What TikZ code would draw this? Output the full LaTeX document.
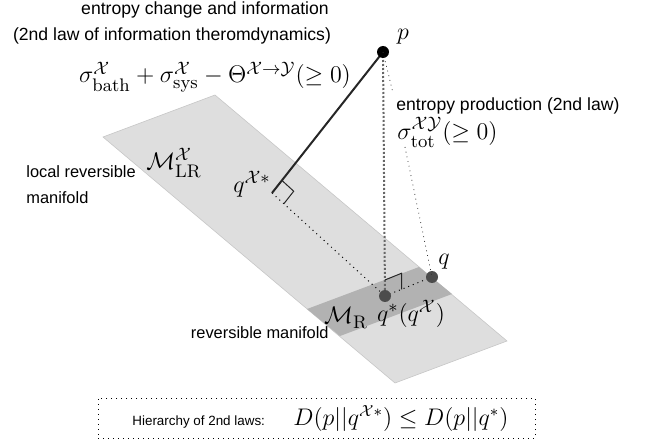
\documentclass[tikz,border=0pt]{standalone}
\usepackage{amsmath,amssymb}
\usepackage{fontspec}
\newfontfamily\helv{Liberation Sans}
\usepackage{tikz}
\usetikzlibrary{calc}

\begin{document}
\begin{tikzpicture}[
      x=0.5pt, y=-0.5pt,
      head/.style={font=\helv\fontsize{8.8}{10}\selectfont, inner sep=0pt},
      side/.style={font=\helv\fontsize{8.2}{10}\selectfont, inner sep=0pt},
      boxtxt/.style={font=\helv\fontsize{6.7}{8}\selectfont, inner sep=0pt},
      eq/.style={font=\fontsize{13}{15}\selectfont, inner sep=0pt},
      eqs/.style={font=\fontsize{11.6}{13}\selectfont, inner sep=0pt},
      plane/.style={fill=black!13, draw=black!22, line width=0.3pt},
      band/.style={fill=black!30},
      pdot/.style={circle, fill=black, inner sep=0pt, minimum size=6pt},
      qdot/.style={circle, fill=black!70, inner sep=0pt, minimum size=6pt},
      proj/.style={line width=1pt, black!85},
      perp/.style={line width=0.5pt, black!85},
      foot/.style={dotted, line width=0.5pt},
      plumb/.style={densely dotted, line width=1pt, black!60},
      leader/.style={dotted, line width=0.4pt, black!80},
      lawbox/.style={draw, dotted, line width=0.5pt, minimum width=218.5pt,
                     minimum height=20pt, inner sep=0pt},
    ]
    \useasboundingbox (0,0) rectangle (649,444);

    %% manifolds
    \draw[plane] (103,137) -- (215,95) -- (507,341) -- (395,383) -- cycle;
    \fill[band]  (307,309) -- (419,267) -- (452,294) -- (340,336) -- cycle;

    %% points
    \coordinate (p)  at (383,52);
    \coordinate (q)  at (432,277);
    \coordinate (qs) at (385,296);
    \coordinate (qx) at (272,193);

    %% projections
    \draw[foot]  (qx) -- (qs);
    \draw[foot]  (qs) -- (q);
    \draw[plumb] (p) -- (qs);
    \draw[proj]  (p) -- (qx);

    %% right angles
    \coordinate (qxa) at ($(qx)!8pt!(p)$);
    \coordinate (qxb) at ($(qx)!8pt!(qs)$);
    \draw[perp] (qxa) -- ($(qxa)+(qxb)-(qx)$) -- (qxb);
    \coordinate (qsa) at ($(qs)!8pt!(p)$);
    \coordinate (qsb) at ($(qs)!9pt!(q)$);
    \draw[perp] (qsa) -- ($(qsa)+(qsb)-(qs)$) -- (qsb);

    %% dots
    \node[pdot] (pdt)  at (p)  {};
    \node[qdot] (qdt)  at (q)  {};
    \node[qdot] (qsdt) at (qs) {};

    %% point labels
    \node[eq] (plbl)  at (403,37)  {$p$};
    \node[eq] (qlbl)  at (444,262) {$q$};
    \node[eq] (qxlbl) at (252,184) {$q^{\mathcal{X}*}$};
    \node[eq] (qslbl) at (411,314) {$q^{*}(q^{\mathcal{X}})$};
    \node[eq] (mlr)   at (174,163) {$\mathcal{M}^{\mathcal{X}}_{\mathrm{LR}}$};
    \node[eq] (mr)    at (346,318) {$\mathcal{M}_{\mathrm{R}}$};

    %% information thermodynamics
    \node[head, anchor=base] (info) at (205,15) {entropy change and information};
    \node[head, anchor=base] (ilaw) at (172,41) {(2nd law of information theromdynamics)};
    \node[eq, anchor=base] (ieq) at (215,83)
      {$\sigma^{\mathcal{X}}_{\mathrm{bath}}+\sigma^{\mathcal{X}}_{\mathrm{sys}}-\Theta^{\mathcal{X}\to\mathcal{Y}}(\geq 0)$};

    %% entropy production
    \node[head, anchor=base west] (prod) at (396,111) {entropy production (2nd law)};
    \node[eq, anchor=base west] (tot) at (397,140)
      {$\sigma^{\mathcal{X}\mathcal{Y}}_{\mathrm{tot}}(\geq 0)$};
    \coordinate (tick) at (393,93);
    \coordinate (totfoot) at (405,147);
    \draw[leader] (p) -- (tick);
    \draw[leader] (totfoot) -- (q);

    %% manifold names
    \node[side, anchor=base west] (lrm1) at (26,178) {local reversible};
    \node[side, anchor=base west] (lrm2) at (26,204) {manifold};
    \node[side, anchor=base east] (rm) at (329,338) {reversible manifold};

    %% hierarchy
    \node[lawbox] (hbox) at (316.5,418) {};
    \node[boxtxt, anchor=base west] (htxt) at (132,425) {Hierarchy of 2nd laws:};
    \node[eqs, anchor=base west] (hineq) at (293,425)
      {$D(p||q^{\mathcal{X}*})\leq D(p||q^{*})$};
  \end{tikzpicture}
\end{document}
